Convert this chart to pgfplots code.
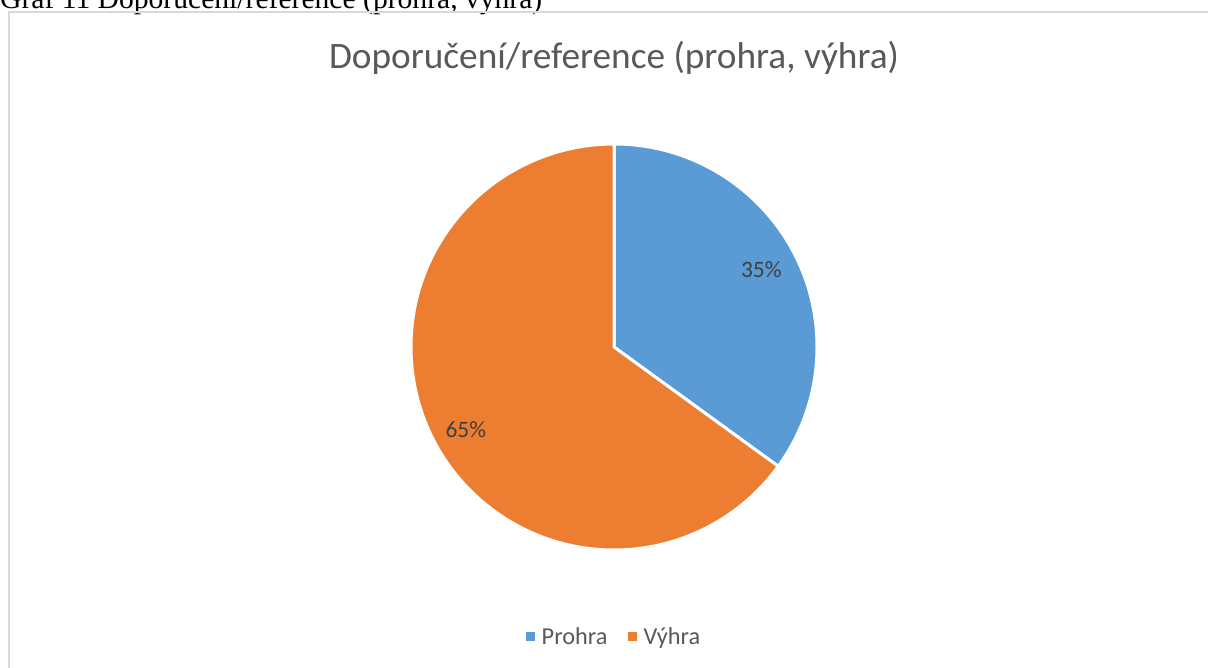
\documentclass[border=0pt]{standalone}
\usepackage{pgfplots}
\pgfplotsset{compat=1.18}
\usepackage{fontspec}
\setmainfont{Carlito}
\newfontfamily\capfont{Liberation Serif}
\definecolor{cblue}{HTML}{5B9BD5}
\definecolor{corange}{HTML}{ED7D31}
\definecolor{tgray}{HTML}{595959}
\definecolor{lgray}{HTML}{404040}
\definecolor{fgray}{HTML}{D9D9D9}
\begin{document}
\begin{tikzpicture}[x=1pt,y=1pt]
\useasboundingbox (0,0) rectangle (1208,668);
\fill[white] (0,0) rectangle (1208,668);
% caption, partly cut off at top
\node[anchor=base west,inner sep=0pt,font=\capfont\fontsize{29.6}{32}\selectfont] at (0,668-9) {Graf 11 Doporučení/reference (prohra, výhra)};
% chart frame
\draw[fgray,line width=1.3pt] (9,-30) -- (9,668-12) -- (1230,668-12);
% title
\node[anchor=base,inner sep=0pt,text=tgray,font=\fontsize{37.3}{40}\selectfont] at (614,668-69) {Doporučení/reference (prohra, výhra)};
\begin{axis}[
  at={(614pt,321pt)}, anchor=center,
  width=406pt, height=406pt, scale only axis,
  xmin=-1, xmax=1, ymin=-1, ymax=1,
  hide axis,
  legend columns=2,
  legend style={draw=none, fill=none, at={(0.5,-0.214)}, anchor=center,
    font=\fontsize{24.3}{27}\selectfont, text=tgray,
    /tikz/every even column/.append style={column sep=18pt}},
  legend image code/.code={\fill[#1] (0pt,-4.5pt) rectangle (9pt,4.5pt); \path (0pt,0pt) -- (14pt,0pt);},
]
\addlegendimage{fill=cblue, draw=none}
\addlegendentry{Prohra}
\addlegendimage{fill=corange, draw=none}
\addlegendentry{Výhra}
% values: Prohra 35, Výhra 65 (percent)
\fill[cblue, draw=white, line width=3pt, line join=round] (axis cs:0,0) -- (axis cs:0,1) arc[start angle=90, end angle={90-360*35/100}, radius=203pt] -- cycle;
\fill[corange, draw=white, line width=3pt, line join=round] (axis cs:0,0) -- (axis cs:{cos(90-360*35/100)},{sin(90-360*35/100)}) arc[start angle={90-360*35/100}, end angle={-270}, radius=203pt] -- cycle;
\node[text=lgray,font=\fontsize{23.5}{26}\selectfont] at (axis cs:0.726,0.380) {35\%};
\node[text=lgray,font=\fontsize{23.5}{26}\selectfont] at (axis cs:-0.73,-0.409) {65\%};
\end{axis}
\end{tikzpicture}
\end{document}
